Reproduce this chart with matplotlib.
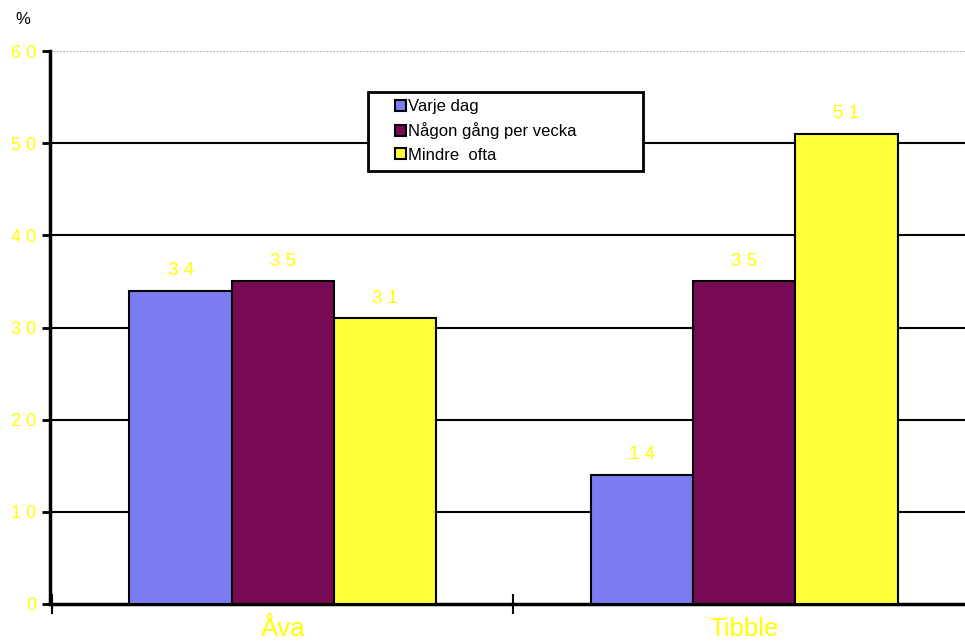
import numpy as np
import matplotlib.pyplot as plt
from matplotlib.patches import Rectangle

plt.rcParams['font.family'] = ['Liberation Sans', 'DejaVu Sans']

categories = ["Åva", "Tibble"]
series = ["Varje dag", "Någon gång per vecka", "Mindre  ofta"]
values = {
    "Varje dag": [34, 14],
    "Någon gång per vecka": [35, 35],
    "Mindre  ofta": [31, 51],
}
colors = ["#7b7bf2", "#780a55", "#ffff3a"]
yticks = [0, 10, 20, 30, 40, 50, 60]
label_color = "#ffff00"

W, H = 965, 642
fig = plt.figure(figsize=(9.65, 6.42), dpi=100)
ax = fig.add_axes([50 / W, 38 / H, 915 / W, 553 / H])

x = np.arange(len(categories))
width = 0.222
for i, name in enumerate(series):
    pos = x + (i - 1) * width
    ax.bar(pos, values[name], width, color=colors[i], edgecolor="black",
           linewidth=1.5, label=name, zorder=3)
    for xp, v in zip(pos, values[name]):
        ax.text(xp, v + 2.2, " ".join(str(v)), ha="center", va="center",
                color=label_color, fontsize=13.5, zorder=4)

ax.set_xlim(-0.505, 1.479)
ax.set_ylim(0, 60)
for t in yticks[1:-1]:
    ax.axhline(t, color="black", linewidth=1.5, zorder=1)
ax.axhline(60, color="#999999", linewidth=1.2, linestyle=(0, (1, 1)), zorder=1)

ax.set_yticks(yticks)
ax.set_yticklabels([" ".join(str(t)) for t in yticks], color=label_color, fontsize=13)
ax.set_xticks([-0.5, 0.5])
ax.set_xticklabels([])
ax.tick_params(axis="y", direction="out", length=6, width=2, pad=4)
ax.tick_params(axis="x", direction="inout", length=14, width=1.5)
for xp, c in zip(x, categories):
    ax.text(xp, -2.75, c, ha="center", va="center", color=label_color, fontsize=18.5,
            clip_on=False)

for s in ["top", "right"]:
    ax.spines[s].set_visible(False)
ax.spines["left"].set_linewidth(2.5)
ax.spines["bottom"].set_linewidth(2.5)

fig.text(15 / W, 1 - 20 / H, "%", fontsize=12, ha="left", va="center")

# legend frame drawn separately so it can be wider than its contents
fig.add_artist(Rectangle((368 / W, 1 - 171 / H), 275 / W, 79 / H,
                         transform=fig.transFigure, facecolor="white",
                         edgecolor="black", linewidth=2, zorder=5))
leg = fig.legend(loc="upper left", bbox_to_anchor=(395 / W, 1 - 99 / H),
                 frameon=False, fontsize=12, handlelength=0.65, handleheight=0.65,
                 handletextpad=0.15, borderpad=0, labelspacing=0.5,
                 borderaxespad=0)
leg.set_zorder(6)

fig.savefig("out.png", dpi=100)
